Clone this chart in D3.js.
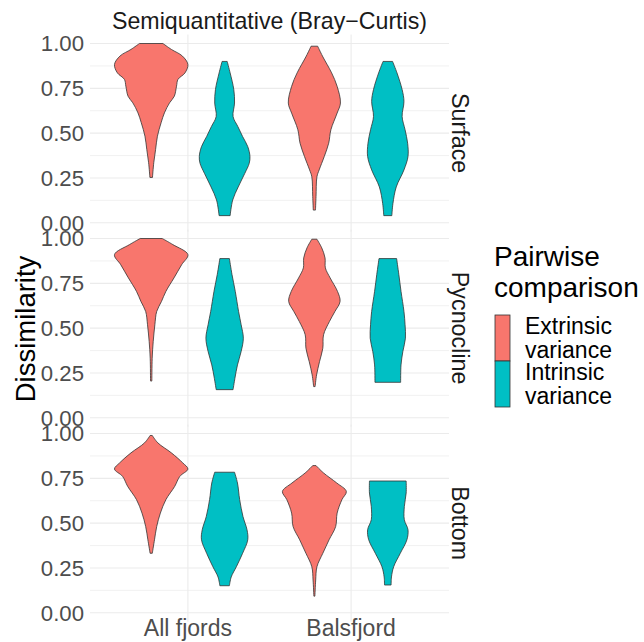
<!DOCTYPE html>
<html>
<head>
<meta charset="utf-8">
<script src="https://cdn.jsdelivr.net/npm/d3@7"></script>
<style>
body { margin: 0; background: #fff; }
text { font-family: "Liberation Sans", Arial, sans-serif; }
</style>
</head>
<body>
<svg id="chart" width="644" height="642"></svg>
<script>
var sites = ["All fjords", "Balsfjord"],
    comparisons = ["Extrinsic variance", "Intrinsic variance"],
    depths = ["Surface", "Pycnocline", "Bottom"],
    yTicks = [0, 0.25, 0.5, 0.75, 1],
    yMinor = [0.125, 0.375, 0.625, 0.875],
    colours = ["#F8766D", "#00BFC4"];

// violin outlines: [dissimilarity, relative half width]
var surfaceAllExt = [[0.253,0.035],[0.335,0.07],[0.409,0.12],[0.483,0.17],[0.558,0.27],[0.613,0.36],[0.669,0.5],[0.706,0.63],[0.762,0.69],[0.80,0.73],[0.836,0.92],[0.883,1.0],[0.93,0.85],[0.967,0.55],[1.0,0.32]];
var surfaceAllInt = [[0.04,0.15],[0.127,0.22],[0.20,0.37],[0.276,0.55],[0.332,0.67],[0.37,0.69],[0.425,0.63],[0.481,0.49],[0.537,0.36],[0.593,0.23],[0.668,0.27],[0.743,0.25],[0.836,0.15],[0.90,0.07]];
var surfaceBalExt = [[0.071,0.03],[0.146,0.045],[0.257,0.07],[0.295,0.13],[0.37,0.27],[0.444,0.39],[0.519,0.45],[0.612,0.62],[0.668,0.71],[0.761,0.62],[0.836,0.47],[0.93,0.22],[0.985,0.09]];
var surfaceBalInt = [[0.04,0.11],[0.108,0.14],[0.20,0.23],[0.295,0.44],[0.37,0.55],[0.444,0.54],[0.519,0.47],[0.593,0.39],[0.677,0.44],[0.743,0.39],[0.836,0.25],[0.90,0.13]];
var pycAllExt = [[0.205,0.018],[0.332,0.027],[0.425,0.055],[0.519,0.10],[0.593,0.15],[0.649,0.28],[0.705,0.40],[0.78,0.62],[0.854,0.83],[0.91,1.0],[0.966,0.59],[1.0,0.30]];
var pycAllInt = [[0.157,0.23],[0.22,0.28],[0.295,0.35],[0.37,0.45],[0.444,0.51],[0.519,0.45],[0.593,0.38],[0.705,0.29],[0.80,0.20],[0.888,0.13]];
var pycBalExt = [[0.174,0.02],[0.239,0.06],[0.313,0.14],[0.388,0.23],[0.463,0.25],[0.537,0.41],[0.593,0.56],[0.649,0.70],[0.705,0.63],[0.78,0.43],[0.836,0.30],[0.892,0.29],[0.948,0.20],[0.996,0.07]];
var pycBalInt = [[0.198,0.35],[0.295,0.36],[0.37,0.41],[0.444,0.48],[0.519,0.47],[0.593,0.44],[0.705,0.36],[0.80,0.30],[0.888,0.24]];
var botAllExt = [[0.332,0.03],[0.407,0.09],[0.481,0.15],[0.556,0.25],[0.631,0.40],[0.705,0.64],[0.761,0.78],[0.802,1.0],[0.836,0.86],[0.892,0.55],[0.948,0.18],[0.989,0.03]];
var botAllInt = [[0.151,0.13],[0.20,0.18],[0.257,0.32],[0.332,0.49],[0.407,0.63],[0.463,0.61],[0.537,0.50],[0.631,0.41],[0.724,0.35],[0.784,0.27]];
var botBalExt = [[0.093,0.014],[0.183,0.036],[0.257,0.07],[0.332,0.23],[0.407,0.40],[0.481,0.58],[0.556,0.62],[0.631,0.75],[0.677,0.87],[0.724,0.61],[0.78,0.25],[0.821,0.045]];
var botBalInt = [[0.155,0.09],[0.20,0.10],[0.257,0.16],[0.332,0.34],[0.407,0.52],[0.463,0.55],[0.519,0.45],[0.593,0.45],[0.668,0.50],[0.735,0.50]];

var violins = [
  {depth: "Surface", site: "All fjords", comp: "Extrinsic variance", profile: surfaceAllExt},
  {depth: "Surface", site: "All fjords", comp: "Intrinsic variance", profile: surfaceAllInt},
  {depth: "Surface", site: "Balsfjord", comp: "Extrinsic variance", profile: surfaceBalExt},
  {depth: "Surface", site: "Balsfjord", comp: "Intrinsic variance", profile: surfaceBalInt},
  {depth: "Pycnocline", site: "All fjords", comp: "Extrinsic variance", profile: pycAllExt},
  {depth: "Pycnocline", site: "All fjords", comp: "Intrinsic variance", profile: pycAllInt},
  {depth: "Pycnocline", site: "Balsfjord", comp: "Extrinsic variance", profile: pycBalExt},
  {depth: "Pycnocline", site: "Balsfjord", comp: "Intrinsic variance", profile: pycBalInt},
  {depth: "Bottom", site: "All fjords", comp: "Extrinsic variance", profile: botAllExt},
  {depth: "Bottom", site: "All fjords", comp: "Intrinsic variance", profile: botAllInt},
  {depth: "Bottom", site: "Balsfjord", comp: "Extrinsic variance", profile: botBalExt},
  {depth: "Bottom", site: "Balsfjord", comp: "Intrinsic variance", profile: botBalInt}
];

var svg = d3.select("#chart");
var panelLeft = 90, panelRight = 449,
    panelTop = 34.5, panelStep = 195, unit = 179.3;

var x = d3.scalePoint().domain(sites).range([panelLeft, panelRight]).padding(0.6);
var dodge = d3.scaleBand().domain(comparisons).range([-0.45 * x.step(), 0.45 * x.step()]);
var fill = d3.scaleOrdinal().domain(comparisons).range(colours);

function yScale(i) {
  var one = panelTop + 9 + panelStep * i;
  return d3.scaleLinear().domain([0, 1]).range([one + unit, one]);
}

depths.forEach(function(depth, i) {
  var y = yScale(i);
  var g = svg.append("g").attr("class", "panel");
  var top = y(1.05), bottom = y(-0.05);

  g.selectAll(".minor").data(yMinor).enter().append("line")
    .attr("x1", panelLeft).attr("x2", panelRight)
    .attr("y1", function(d) { return y(d); }).attr("y2", function(d) { return y(d); })
    .attr("stroke", "#EBEBEB").attr("stroke-width", 0.7);

  g.selectAll(".major").data(yTicks).enter().append("line")
    .attr("x1", panelLeft).attr("x2", panelRight)
    .attr("y1", function(d) { return y(d); }).attr("y2", function(d) { return y(d); })
    .attr("stroke", "#EBEBEB").attr("stroke-width", 1.1);

  g.selectAll(".vgrid").data(sites).enter().append("line")
    .attr("x1", function(d) { return x(d); }).attr("x2", function(d) { return x(d); })
    .attr("y1", top).attr("y2", bottom)
    .attr("stroke", "#EBEBEB").attr("stroke-width", 1.1);

  g.selectAll(".ytick").data(yTicks).enter().append("text")
    .attr("x", 84).attr("y", function(d) { return y(d); })
    .attr("dy", "0.36em")
    .attr("text-anchor", "end")
    .attr("fill", "#4D4D4D").attr("font-size", 22.2)
    .text(function(d) { return d3.format(".2f")(d); });

  var half = dodge.bandwidth() / 2;
  violins.filter(function(v) { return v.depth == depth; }).forEach(function(v) {
    var cx = x(v.site) + dodge(v.comp) + half;
    var area = d3.area()
      .curve(d3.curveCatmullRom.alpha(0.5))
      .y(function(d) { return y(d[0]); })
      .x0(function(d) { return cx - d[1] * half; })
      .x1(function(d) { return cx + d[1] * half; });
    g.append("path")
      .attr("d", area(v.profile))
      .attr("fill", fill(v.comp))
      .attr("stroke", "#333333")
      .attr("stroke-width", 0.8);
  });

  svg.append("text")
    .attr("transform", "translate(460," + ((top + bottom) / 2) + ") rotate(90)")
    .attr("dy", "0.36em")
    .attr("text-anchor", "middle")
    .attr("fill", "#1A1A1A").attr("font-size", 23.3)
    .text(depth);
});

// column strip title
svg.append("text")
  .attr("x", (panelLeft + panelRight) / 2).attr("y", 29)
  .attr("text-anchor", "middle")
  .attr("fill", "#1A1A1A").attr("font-size", 23.2)
  .text("Semiquantitative (Bray\u2212Curtis)");

svg.selectAll(".xtick").data(sites).enter().append("text")
  .attr("x", function(d) { return x(d); }).attr("y", 636)
  .attr("text-anchor", "middle")
  .attr("fill", "#4D4D4D").attr("font-size", 23)
  .text(function(d) { return d; });

svg.append("text")
  .attr("transform", "translate(35,329) rotate(-90)")
  .attr("text-anchor", "middle")
  .attr("font-size", 27.5)
  .text("Dissimilarity");

// legend
var legend = svg.append("g").attr("class", "legend");
legend.append("text").attr("x", 494).attr("y", 266).attr("font-size", 28).text("Pairwise");
legend.append("text").attr("x", 494).attr("y", 297).attr("font-size", 28).text("comparison");

comparisons.forEach(function(c, i) {
  var ky = 315 + i * 46;
  legend.append("rect")
    .attr("x", 495).attr("y", ky).attr("width", 15).attr("height", 46)
    .attr("fill", fill(c)).attr("stroke", "#333333").attr("stroke-width", 0.8);
  var words = c.split(" ");
  words.forEach(function(w, j) {
    legend.append("text")
      .attr("x", 525).attr("y", ky + 19 + j * 24)
      .attr("font-size", 23)
      .text(w);
  });
});
</script>
</body>
</html>
